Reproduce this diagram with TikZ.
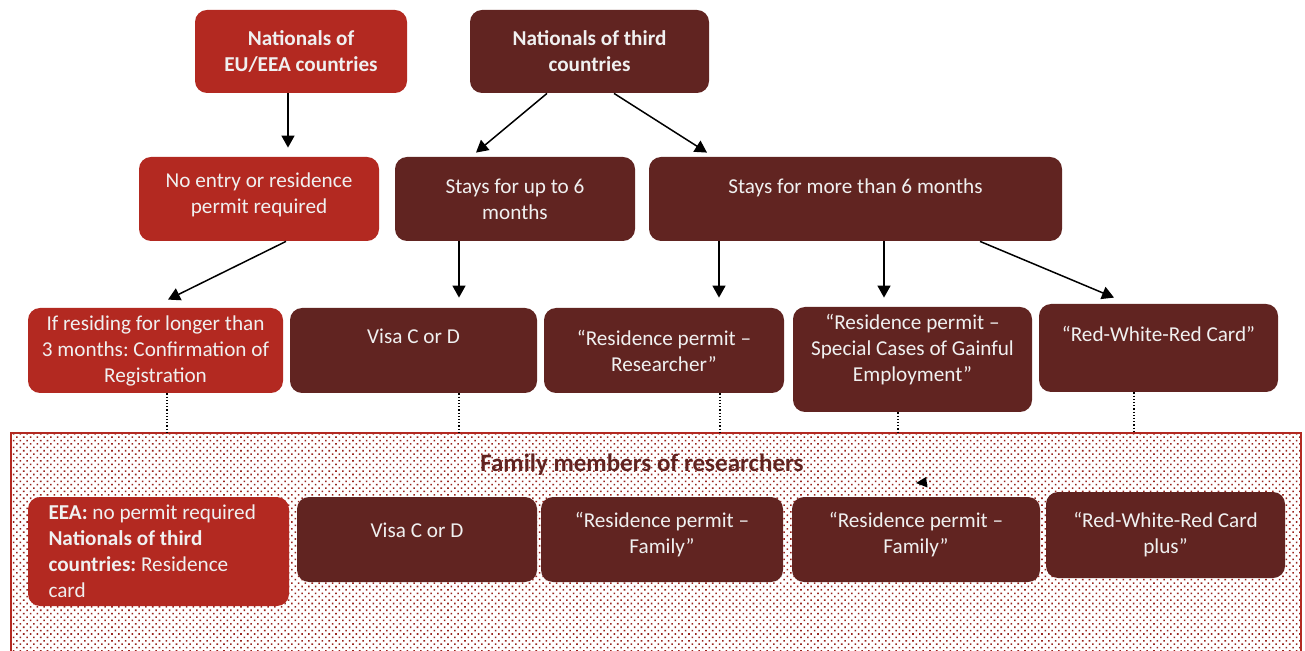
\documentclass[tikz,border=0pt]{standalone}
\usepackage{fontspec}
\setmainfont{Carlito}
\usepackage{tikz}
\usetikzlibrary{arrows.meta, patterns.meta}
\definecolor{eured}{RGB}{179,41,33}
\definecolor{tcbrown}{RGB}{97,36,33}
\newcommand{\boxfont}{\fontsize{10.6}{13}\selectfont\frenchspacing}

\begin{document}
\begin{tikzpicture}[x=0.5pt, y=-0.5pt,
        box/.style={rounded corners=6pt, inner sep=0pt, align=center, text=white!94!black, font=\boxfont},
        sz/.style 2 args={minimum width=#1*0.5pt, minimum height=#2*0.5pt},
        eubox/.style={box, fill=eured},
        tcbox/.style={box, fill=tcbrown},
        arr/.style={-{Triangle[length=6pt, width=6.5pt]}, line width=0.75pt},
        link/.style={densely dotted, line width=0.6pt}]
        \useasboundingbox (0,0) rectangle (1305,651);

        % origin
        \node[eubox, sz={212}{83}, font=\boxfont\bfseries] (eu) at (301,51.5) {Nationals of\\EU/EEA countries};
        \node[tcbox, sz={239}{83}, font=\boxfont\bfseries] (third) at (589.5,51.5) {Nationals of third\\countries};

        % length of stay
        \node[eubox, sz={240}{84}, text depth=6pt] (noentry) at (259,199) {No entry or residence\\permit required};
        \node[tcbox, sz={240}{84}] (short) at (515,199) {Stays for up to 6\\months};
        \node[tcbox, sz={413}{84}, text depth=12.5pt] (long) at (855.5,199) {Stays for more than 6 months};

        % permits of the researcher
        \node[eubox, sz={255}{85}] (conf) at (155.5,350.5) {If residing for longer than\\3 months: Confirmation of\\Registration};
        \node[tcbox, sz={247}{85}, text depth=14pt] (visa) at (413.5,350.5) {Visa C or D};
        \node[tcbox, sz={240}{85}] (research) at (664,350.5) {“Residence permit –\\Researcher”};
        \node[tcbox, sz={239}{105}, text depth=12pt] (special) at (912.5,359.5) {“Residence permit –\\Special Cases of Gainful\\Employment”};
        \node[tcbox, sz={239}{88}, text depth=14pt] (rwr) at (1158.5,348) {“Red-White-Red Card”};

        \draw[arr] ([xshift=-6.5pt]eu.south) -- ([xshift=-6.5pt,yshift=4.5pt]eu.south |- noentry.north);
        \draw[arr] ([xshift=-21.25pt]third.south) -- ([xshift=-19.5pt,yshift=2pt]short.north);
        \draw[arr] ([xshift=12.25pt]third.south) -- ([xshift=-74.25pt,yshift=2pt]long.north);
        \draw[arr] ([xshift=13.5pt]noentry.south) -- ([xshift=6.25pt,yshift=4pt]conf.north);
        \draw[arr] ([xshift=-28pt]short.south) -- ([xshift=22.75pt,yshift=5pt]visa.north);
        \draw[arr] ([xshift=-68.25pt]long.south) -- ([xshift=27.5pt,yshift=5pt]research.north);
        \draw[arr] ([xshift=14.25pt]long.south) -- ([xshift=-14.25pt,yshift=4.5pt]special.north);
        \draw[arr] ([xshift=62.25pt]long.south) -- ([xshift=-22.25pt,yshift=3pt]rwr.north);

        % family members
        \node[draw=eured, line width=1pt, inner sep=0pt, anchor=north west, minimum width=645pt, minimum height=112pt,
            pattern={Dots[distance=2.4pt, angle=45, radius=0.55pt]}, pattern color=eured!85!black] (fam) at (10,432) {};
        \node[text=tcbrown, font=\fontsize{12.5}{15}\selectfont\bfseries] (famtitle) at (642,465) {Family members of researchers};

        \node[eubox, sz={261}{109}, text width=110pt, align=flush left] (eea) at (158.5,551.5)
            {\textbf{EEA:} no permit required\\\textbf{Nationals of third}\\\textbf{countries:} Residence\\card};
        \node[tcbox, sz={240}{85}, text depth=9pt] (fvisa) at (417,539.5) {Visa C or D};
        \node[tcbox, sz={242}{85}, text depth=7pt] (famone) at (662,539.5) {“Residence permit –\\Family”};
        \node[tcbox, sz={248}{85}, text depth=7pt] (famtwo) at (916,539.5) {“Residence permit –\\Family”};
        \node[tcbox, sz={239}{86}] (rwrplus) at (1165.5,535) {“Red-White-Red Card\\plus”};

        \draw[link] ([xshift=5.75pt]conf.south) -- ([xshift=5.75pt]conf.south |- fam.north);
        \draw[link] ([xshift=22.75pt]visa.south) -- ([xshift=22.75pt]visa.south |- fam.north);
        \draw[link] ([xshift=28pt]research.south) -- ([xshift=28pt]research.south |- fam.north);
        \draw[link] ([xshift=-7.25pt]special.south) -- ([xshift=-7.25pt]special.south |- fam.north);
        \draw[link] ([xshift=-12.25pt]rwr.south) -- ([xshift=-12.25pt]rwr.south |- fam.north);

        % loose arrow head
        \fill (916,483) -- (926,477) -- (927.5,487.5) -- cycle;
\end{tikzpicture}
\end{document}
